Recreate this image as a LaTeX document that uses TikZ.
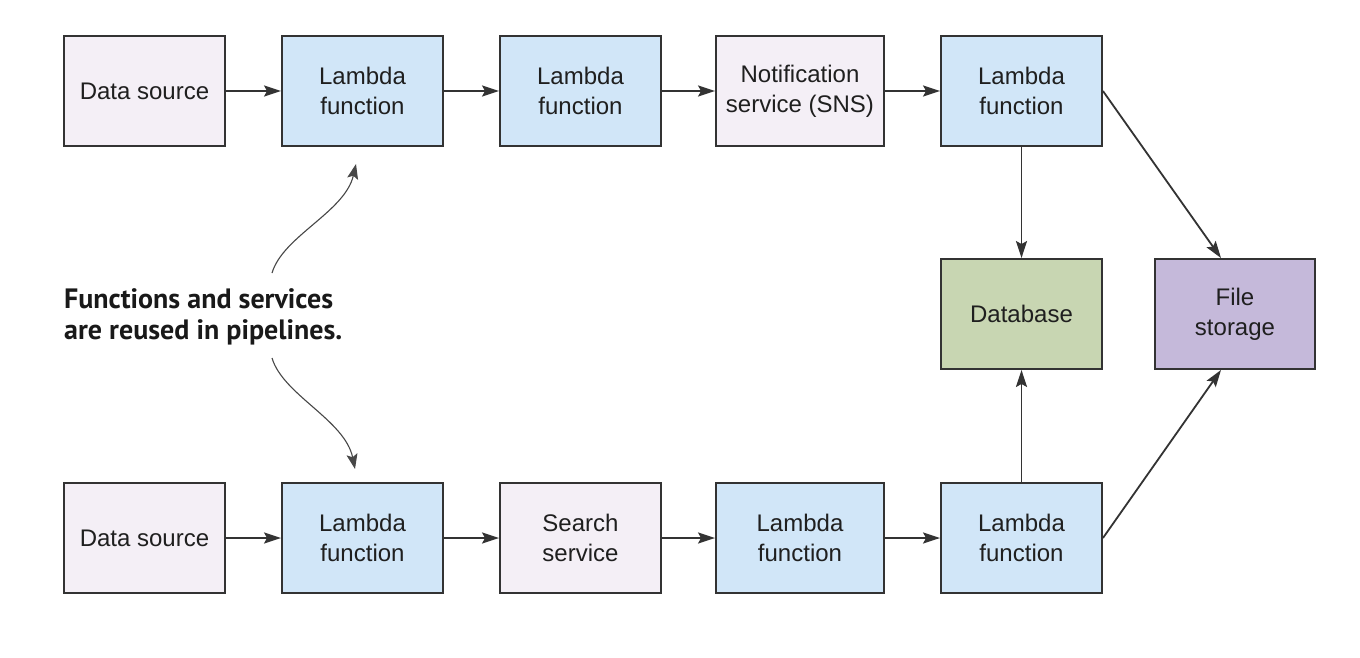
\documentclass[tikz,border=0pt]{standalone}
\usepackage{fontspec}
\setmainfont{Liberation Sans}
\newfontfamily\notefont{PT Sans}
\usetikzlibrary{arrows.meta,calc}
\definecolor{srcfill}{HTML}{F4EFF6}
\definecolor{lamfill}{HTML}{D1E6F8}
\definecolor{dbfill}{HTML}{C8D6B2}
\definecolor{fsfill}{HTML}{C5B9DA}
\definecolor{edge}{HTML}{333333}
\tikzset{
  box/.style={draw=edge, line width=1.9pt, minimum width=161pt, minimum height=110pt,
    inner sep=0pt, align=center, text=black!88, font=\fontsize{24pt}{30pt}\selectfont},
  src/.style={box, fill=srcfill},
  lam/.style={box, fill=lamfill},
  conn/.style={draw=edge, line width=1.8pt, -{Stealth[length=17pt,width=11pt,inset=3pt]}},
  curv/.style={draw=edge!90, line width=1.1pt, -{Stealth[length=15pt,width=11pt,inset=3pt]}}
}
\begin{document}
\begin{tikzpicture}[x=1pt,y=-1pt]
\fill[white] (0,0) rectangle (1360,658);
\useasboundingbox (0,0) rectangle (1360,658);
% top row
\node[src] (ds1) at (144.5,91) {Data source};
\node[lam] (l1) at (362.5,91) {Lambda\\function};
\node[lam] (l2) at (580.5,91) {Lambda\\function};
\node[src, minimum width=168pt] (sns) at (800,91) {Notification\\service (SNS)};
\node[lam] (l3) at (1021.5,91) {Lambda\\function};
% middle
\node[box, fill=dbfill] (db) at (1021.5,314) {Database};
\node[box, fill=fsfill, minimum width=160pt] (fs) at (1235,314) {File\\storage};
% bottom row
\node[src] (ds2) at (144.5,538) {Data source};
\node[lam] (l4) at (362.5,538) {Lambda\\function};
\node[src] (srch) at (580.5,538) {Search\\service};
\node[lam, minimum width=168pt] (l5) at (800,538) {Lambda\\function};
\node[lam] (l6) at (1021.5,538) {Lambda\\function};
% note
\node[anchor=base west, align=left, inner sep=0pt,
  font=\notefont\bfseries\fontsize{28pt}{31pt}\selectfont, text=black!90] (note) at (64,339)
  {Functions and services\\are reused in pipelines.};
% connectors
\draw[conn] (ds1) -- (l1);
\draw[conn] (l1) -- (l2);
\draw[conn] (l2) -- (sns);
\draw[conn] (sns) -- (l3);
\draw[conn] (l3) -- (db);
\draw[conn] (l3.east) -- ($(fs.north)+(-14,0)$);
\draw[conn] (ds2) -- (l4);
\draw[conn] (l4) -- (srch);
\draw[conn] (srch) -- (l5);
\draw[conn] (l5) -- (l6);
\draw[conn] (l6) -- (db);
\draw[conn] (l6.east) -- ($(fs.south)+(-14,0)$);
% curved pointers
\coordinate (up) at (356,164);
\coordinate (dn) at (355,469);
\draw[curv] (272,273) .. controls (283,236) and (345,212) .. (up);
\draw[curv] (272,358) .. controls (283,395) and (345,420) .. (dn);
\end{tikzpicture}
\end{document}
